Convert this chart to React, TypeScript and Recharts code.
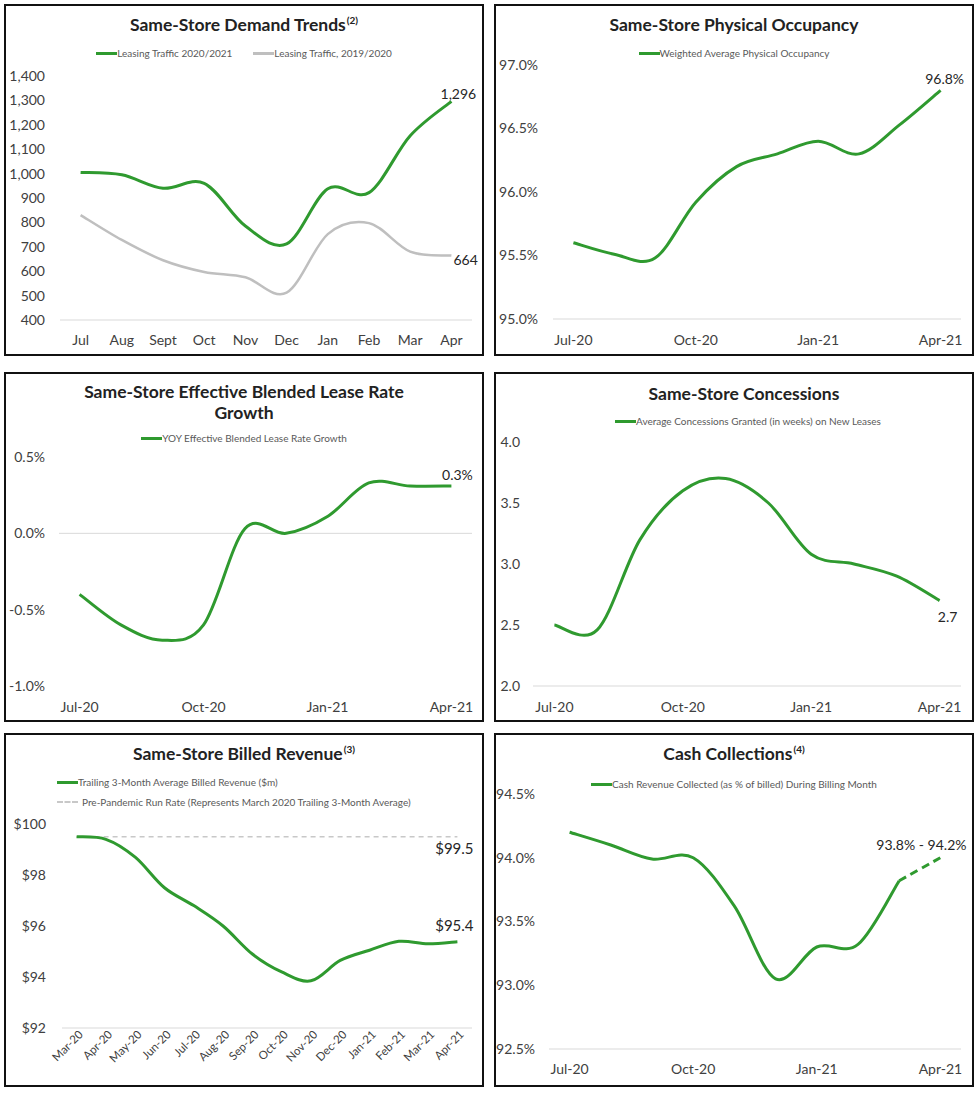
import React from 'react';
import { LineChart, Line, XAxis, YAxis, ReferenceLine, LabelList } from 'recharts';

const FONT = 'Lato, "Open Sans", sans-serif';
const GREEN = '#2f9a2f';
const GRAY_LINE = '#bfbfbf';
const AXIS = '#d9d9d9';
const TEXT = '#404040';

// Same-Store Demand Trends
const demandMonths = ['Jul', 'Aug', 'Sept', 'Oct', 'Nov', 'Dec', 'Jan', 'Feb', 'Mar', 'Apr'];
const traffic2021 = [1005, 995, 940, 960, 785, 712, 938, 922, 1155, 1296];
const traffic1920 = [830, 728, 645, 597, 575, 512, 752, 797, 680, 664];
const demandTicks = [400, 500, 600, 700, 800, 900, 1000, 1100, 1200, 1300, 1400];

// monthly charts Jul-20 .. Apr-21
const months = ['Jul-20', 'Aug-20', 'Sep-20', 'Oct-20', 'Nov-20', 'Dec-20', 'Jan-21', 'Feb-21', 'Mar-21', 'Apr-21'];
const occupancy = [95.6, 95.51, 95.48, 95.92, 96.2, 96.3, 96.4, 96.3, 96.53, 96.8];
const occupancyTicks = [95, 95.5, 96, 96.5, 97];

const leaseGrowth = [-0.4, -0.6, -0.7, -0.6, 0.03, 0.0, 0.11, 0.33, 0.31, 0.31];
const leaseTicks = [-1, -0.5, 0, 0.5];

const concessions = [2.5, 2.46, 3.2, 3.6, 3.7, 3.5, 3.08, 3.0, 2.9, 2.7];
const concessionTicks = [2, 2.5, 3, 3.5, 4];

const cashCollected = [94.2, 94.1, 93.99, 94.0, 93.62, 93.05, 93.3, 93.32, 93.82, null];
const cashForecast = [null, null, null, null, null, null, null, null, 93.82, 94.0];
const cashRange = [93.8, 94.2];
const cashTicks = [92.5, 93, 93.5, 94, 94.5];

// Same-Store Billed Revenue
const revenueMonths = ['Mar-20', 'Apr-20', 'May-20', 'Jun-20', 'Jul-20', 'Aug-20', 'Sep-20', 'Oct-20', 'Nov-20', 'Dec-20', 'Jan-21', 'Feb-21', 'Mar-21', 'Apr-21'];
const billedRevenue = [99.5, 99.4, 98.7, 97.5, 96.8, 96.0, 94.9, 94.2, 93.85, 94.65, 95.05, 95.4, 95.3, 95.38];
const preRunRate = 99.5;
const revenueTicks = [92, 94, 96, 98, 100];

const demandRows = demandMonths.map((m, i) => ({ month: m, cur: traffic2021[i], prior: traffic1920[i] }));
const occRows = months.map((m, i) => ({ month: m, v: occupancy[i] }));
const leaseRows = months.map((m, i) => ({ month: m, v: leaseGrowth[i] }));
const concRows = months.map((m, i) => ({ month: m, v: concessions[i] }));
const cashRows = months.map((m, i) => ({ month: m, actual: cashCollected[i], forecast: cashForecast[i] }));
const revRows = revenueMonths.map((m, i) => ({ month: m, v: billedRevenue[i] }));

// Excel-like smoothed line (Catmull-Rom through the points)
const excelSmooth = (ctx: any) => {
  let pts: number[][] = [];
  return {
    areaStart() {},
    areaEnd() {},
    lineStart() { pts = []; },
    point(x: number, y: number) { pts.push([+x, +y]); },
    lineEnd() {
      if (!pts.length) return;
      ctx.moveTo(pts[0][0], pts[0][1]);
      if (pts.length === 1) return;
      for (let i = 0; i < pts.length - 1; i++) {
        const p0 = pts[i - 1] || pts[i];
        const p1 = pts[i];
        const p2 = pts[i + 1];
        const p3 = pts[i + 2] || p2;
        ctx.bezierCurveTo(
          p1[0] + (p2[0] - p0[0]) / 6, p1[1] + (p2[1] - p0[1]) / 6,
          p2[0] - (p3[0] - p1[0]) / 6, p2[1] - (p3[1] - p1[1]) / 6,
          p2[0], p2[1]
        );
      }
    },
  };
};

const tickStyle = { fontSize: 14, fill: TEXT, fontFamily: FONT };
const pct = (v: number) => `${v.toFixed(1)}%`;

const endLabel = (last: number, fmt: (v: number) => string, dx: number, dy: number, anchor = 'middle', size = 14) =>
  (p: any) => (p.index !== last || p.value == null ? null : (
    <text x={p.x + dx} y={p.y + dy} textAnchor={anchor} dominantBaseline="central" fontSize={size} fill="#262626" fontFamily={FONT}>
      {fmt(p.value)}
    </text>
  ));

const Panel = ({ left, top, width, height, children }: any) => (
  <div style={{ position: 'absolute', left, top, width, height, fontFamily: FONT }}>
    {children}
    <div style={{ position: 'absolute', inset: 0, border: '2px solid #111', boxSizing: 'border-box', pointerEvents: 'none' }} />
  </div>
);

const Title = ({ y, dx = 0, children }: any) => (
  <div style={{ position: 'absolute', left: dx, top: y - 11, width: '100%', textAlign: 'center', fontSize: 17.5, fontWeight: 700, lineHeight: '21px', color: '#222', zIndex: 2 }}>
    {children}
  </div>
);

const Sup = ({ children }: any) => (
  <span style={{ fontSize: 10, position: 'relative', top: -7, marginLeft: 1 }}>{children}</span>
);

const Swatch = ({ color, dashed }: any) => (
  <span style={{ display: 'inline-block', width: 21, height: 0, borderTop: `${dashed ? 2 : 3}px ${dashed ? 'dashed' : 'solid'} ${color}` }} />
);

const LegendRow = ({ y, items, dx = 0, gap = 21, align = 'center' }: any) => (
  <div style={{ position: 'absolute', left: dx, top: y - 7, width: '100%', height: 14, display: 'flex', justifyContent: align, alignItems: 'center', gap, fontSize: 10, color: '#595959', zIndex: 2 }}>
    {items.map((it: any) => (
      <span key={it.label} style={{ display: 'flex', alignItems: 'center', whiteSpace: 'nowrap' }}>
        <Swatch color={it.color} dashed={it.dashed} />
        <span style={{ marginLeft: it.dashed ? 4 : 0 }}>{it.label}</span>
      </span>
    ))}
  </div>
);

const RevenueTick = ({ x, y, payload }: any) => (
  <g transform={`translate(${x + 4},${y + 4})`}>
    <text textAnchor="end" transform="rotate(-45)" dominantBaseline="central" fontSize={11.5} fill={TEXT} fontFamily={FONT}>
      {payload.value}
    </text>
  </g>
);

const App = () => {
  return (
    <div style={{ position: 'absolute', left: 0, top: 0, width: 979, height: 1093, background: '#fff' }}>
      {/* Demand trends */}
      <Panel left={4} top={4} width={480} height={352}>
        <Title y={21}>Same-Store Demand Trends<Sup>(2)</Sup></Title>
        <LegendRow y={49} items={[{ color: GREEN, label: 'Leasing Traffic 2020/2021' }, { color: GRAY_LINE, label: 'Leasing Traffic, 2019/2020' }]} />
        <LineChart width={480} height={352} data={demandRows} margin={{ top: 72, right: 12, bottom: 0, left: 0 }}>
          <XAxis dataKey="month" height={36} padding={{ left: 20.6, right: 20.6 }} interval={0} tickLine={false} tickSize={0} tickMargin={15} axisLine={{ stroke: AXIS }} tick={tickStyle} />
          <YAxis width={56} domain={[400, 1400]} ticks={demandTicks} tickFormatter={(v: number) => v.toLocaleString('en-US')} axisLine={false} tickLine={false} tickSize={0} tickMargin={15} tick={tickStyle} />
          <Line dataKey="prior" stroke={GRAY_LINE} strokeWidth={2.5} type={excelSmooth as any} dot={false} isAnimationActive={false}>
            <LabelList dataKey="prior" content={endLabel(9, (v) => v.toLocaleString('en-US'), 2, 3.5, 'start')} />
          </Line>
          <Line dataKey="cur" stroke={GREEN} strokeWidth={3} type={excelSmooth as any} dot={false} isAnimationActive={false}>
            <LabelList dataKey="cur" content={endLabel(9, (v) => v.toLocaleString('en-US'), 7, -8)} />
          </Line>
        </LineChart>
      </Panel>

      {/* Physical occupancy */}
      <Panel left={494} top={4} width={480} height={352}>
        <Title y={21}>Same-Store Physical Occupancy</Title>
        <LegendRow y={49} items={[{ color: GREEN, label: 'Weighted Average Physical Occupancy' }]} />
        <LineChart width={480} height={352} data={occRows} margin={{ top: 61, right: 13, bottom: 0, left: 0 }}>
          <XAxis dataKey="month" height={37} padding={{ left: 20.4, right: 20.4 }} interval={2} tickLine={false} tickSize={0} tickMargin={16} axisLine={{ stroke: AXIS }} tick={tickStyle} />
          <YAxis width={59} domain={[95, 97]} ticks={occupancyTicks} tickFormatter={pct} axisLine={false} tickLine={false} tickSize={0} tickMargin={15} tick={tickStyle} />
          <Line dataKey="v" stroke={GREEN} strokeWidth={3} type={excelSmooth as any} dot={false} isAnimationActive={false}>
            <LabelList dataKey="v" content={endLabel(9, pct, 4, -12)} />
          </Line>
        </LineChart>
      </Panel>

      {/* Lease rate growth */}
      <Panel left={4} top={372} width={480} height={350}>
        <Title y={20}>Same-Store Effective Blended Lease Rate<br />Growth</Title>
        <LegendRow y={66} items={[{ color: GREEN, label: 'YOY Effective Blended Lease Rate Growth' }]} />
        <LineChart width={480} height={350} data={leaseRows} margin={{ top: 85, right: 12, bottom: 0, left: 0 }}>
          <XAxis dataKey="month" height={36} padding={{ left: 20.6, right: 20.6 }} interval={2} tickLine={false} tickSize={0} tickMargin={16} axisLine={false} tick={tickStyle} />
          <YAxis width={55} domain={[-1, 0.5]} ticks={leaseTicks} tickFormatter={pct} axisLine={false} tickLine={false} tickSize={0} tickMargin={14} tick={tickStyle} />
          <ReferenceLine y={0} stroke={AXIS} strokeWidth={1} />
          <Line dataKey="v" stroke={GREEN} strokeWidth={3} type={excelSmooth as any} dot={false} isAnimationActive={false}>
            <LabelList dataKey="v" content={endLabel(9, pct, 6, -12)} />
          </Line>
        </LineChart>
      </Panel>

      {/* Concessions */}
      <Panel left={494} top={372} width={480} height={350}>
        <Title y={22} dx={10}>Same-Store Concessions</Title>
        <LegendRow y={49} dx={14} items={[{ color: GREEN, label: 'Average Concessions Granted (in weeks) on New Leases' }]} />
        <LineChart width={480} height={350} data={concRows} margin={{ top: 70, right: 13, bottom: 0, left: 0 }}>
          <XAxis dataKey="month" height={36} padding={{ left: 21.4, right: 21.4 }} interval={2} tickLine={false} tickSize={0} tickMargin={16} axisLine={{ stroke: AXIS }} tick={tickStyle} />
          <YAxis width={39} domain={[2, 4]} ticks={concessionTicks} tickFormatter={(v: number) => v.toFixed(1)} axisLine={false} tickLine={false} tickSize={0} tickMargin={13} tick={tickStyle} />
          <Line dataKey="v" stroke={GREEN} strokeWidth={3} type={excelSmooth as any} dot={false} isAnimationActive={false}>
            <LabelList dataKey="v" content={endLabel(9, (v) => v.toFixed(1), 8, 16)} />
          </Line>
        </LineChart>
      </Panel>

      {/* Billed revenue */}
      <Panel left={4} top={733} width={480} height={354}>
        <Title y={21}>Same-Store Billed Revenue<Sup>(3)</Sup></Title>
        <div style={{ position: 'absolute', left: 53, top: 0, width: 420 }}>
          <LegendRow y={49} align="flex-start" items={[{ color: GREEN, label: 'Trailing 3-Month Average Billed Revenue ($m)' }]} />
          <LegendRow y={69} align="flex-start" items={[{ color: '#c8c8c8', dashed: true, label: 'Pre-Pandemic Run Rate (Represents March 2020 Trailing 3-Month Average)' }]} />
        </div>
        <LineChart width={480} height={354} data={revRows} margin={{ top: 91, right: 12, bottom: 0, left: 0 }}>
          <XAxis dataKey="month" height={59} padding={{ left: 14.6, right: 14.6 }} interval={0} tickLine={false} tickSize={0} tickMargin={0} axisLine={{ stroke: AXIS }} tick={<RevenueTick />} />
          <YAxis width={58} domain={[92, 100]} ticks={revenueTicks} tickFormatter={(v: number) => `$${v}`} axisLine={false} tickLine={false} tickSize={0} tickMargin={16} tick={tickStyle} />
          <ReferenceLine
            segment={[{ x: revenueMonths[0], y: preRunRate }, { x: revenueMonths[revenueMonths.length - 1], y: preRunRate }]}
            stroke="#c8c8c8"
            strokeWidth={1.5}
            strokeDasharray="5 4"
            label={(p: any) => {
              const vb = p.viewBox || {};
              return (
                <text x={vb.x + vb.width - 3} y={vb.y + 11} textAnchor="middle" dominantBaseline="central" fontSize={15} fill="#262626" fontFamily={FONT}>
                  {`$${preRunRate.toFixed(1)}`}
                </text>
              );
            }}
          />
          <Line dataKey="v" stroke={GREEN} strokeWidth={3} type={excelSmooth as any} dot={false} isAnimationActive={false}>
            <LabelList dataKey="v" content={endLabel(13, (v) => `$${v.toFixed(1)}`, -3, -17, 'middle', 15)} />
          </Line>
        </LineChart>
      </Panel>

      {/* Cash collections */}
      <Panel left={494} top={733} width={480} height={354}>
        <Title y={21}>Cash Collections<Sup>(4)</Sup></Title>
        <LegendRow y={51} items={[{ color: GREEN, label: 'Cash Revenue Collected (as % of billed) During Billing Month' }]} />
        <LineChart width={480} height={354} data={cashRows} margin={{ top: 61, right: 13, bottom: 0, left: 0 }}>
          <XAxis dataKey="month" height={38} padding={{ left: 20.6, right: 20.6 }} interval={2} tickLine={false} tickSize={0} tickMargin={15} axisLine={{ stroke: AXIS }} tick={tickStyle} />
          <YAxis width={55} domain={[92.5, 94.5]} ticks={cashTicks} tickFormatter={pct} axisLine={false} tickLine={false} tickSize={0} tickMargin={14} tick={tickStyle} />
          <Line dataKey="actual" stroke={GREEN} strokeWidth={3} type={excelSmooth as any} dot={false} isAnimationActive={false} />
          <Line dataKey="forecast" stroke={GREEN} strokeWidth={3} strokeDasharray="8 5" type={excelSmooth as any} dot={false} isAnimationActive={false}>
            <LabelList dataKey="forecast" content={endLabel(9, () => `${cashRange[0].toFixed(1)}% - ${cashRange[1].toFixed(1)}%`, -19, -13)} />
          </Line>
        </LineChart>
      </Panel>
    </div>
  );
};

export default App;
